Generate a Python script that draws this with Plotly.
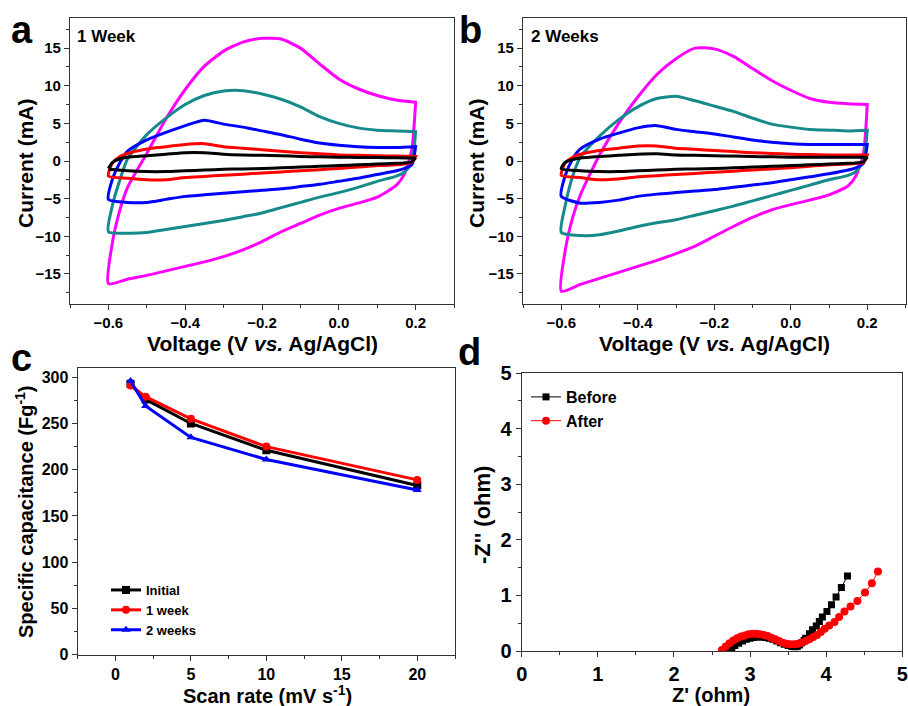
import plotly.graph_objects as go

W, H = 908, 706
FONT = "Liberation Sans, Arial, sans-serif"

# ---------------- Panel a/b: CV data ----------------
V_UP = [-0.6, -0.59, -0.57, -0.55, -0.5, -0.45, -0.4, -0.35, -0.3, -0.25, -0.2,
        -0.15, -0.1, -0.05, 0.0, 0.05, 0.1, 0.15, 0.2]
V_DN = [0.2, 0.19, 0.17, 0.15, 0.1, 0.05, 0.0, -0.05, -0.1, -0.15, -0.2,
        -0.25, -0.3, -0.35, -0.4, -0.45, -0.5, -0.55, -0.6]

CV_COLORS = ["#FF00FF", "#168A8A", "#0000FF", "#FF0000", "#000000"]

# 1 week (panel a)
A_MAG_UP = [-16.3, -11.0, -6.5, -3.5, 1.0, 5.6, 9.5, 12.6, 14.6, 15.8, 16.3, 16.2, 15.0, 12.9, 10.9, 9.6, 8.7, 8.1, 7.8]
A_MAG_DN = [7.8, 1.5, -1.8, -3.2, -4.8, -5.6, -6.3, -7.2, -8.3, -9.4, -10.7, -11.8, -12.7, -13.4, -14.0, -14.6, -15.2, -15.7, -16.3]
A_TEA_UP = [-9.4, -6.0, -2.5, 0.3, 3.5, 5.7, 7.5, 8.7, 9.3, 9.35, 8.9, 8.2, 7.2, 5.9, 5.0, 4.4, 4.1, 4.0, 3.9]
A_TEA_DN = [3.9, -0.3, -1.5, -2.0, -2.7, -3.5, -4.2, -4.8, -5.5, -6.2, -6.9, -7.4, -7.9, -8.3, -8.7, -9.1, -9.5, -9.6, -9.4]
A_BLU_UP = [-5.1, -2.5, -0.2, 1.3, 2.8, 3.8, 4.7, 5.4, 4.9, 4.5, 4.0, 3.5, 2.9, 2.4, 2.1, 1.9, 1.8, 1.8, 1.9]
A_BLU_DN = [1.9, -0.5, -1.0, -1.3, -1.8, -2.3, -2.7, -3.1, -3.4, -3.7, -3.9, -4.1, -4.3, -4.5, -4.7, -5.1, -5.5, -5.5, -5.1]
A_RED_UP = [-2.0, -0.3, 0.6, 1.0, 1.6, 1.9, 2.2, 2.3, 1.9, 1.7, 1.5, 1.3, 1.1, 0.95, 0.8, 0.75, 0.7, 0.65, 0.6]
A_RED_DN = [0.6, -0.2, -0.4, -0.5, -0.6, -0.8, -1.0, -1.15, -1.3, -1.45, -1.6, -1.75, -1.9, -2.05, -2.2, -2.5, -2.5, -2.3, -2.0]
A_BLK_UP = [-1.0, -0.2, 0.3, 0.5, 0.7, 0.9, 1.1, 1.1, 0.9, 0.8, 0.75, 0.7, 0.6, 0.55, 0.5, 0.48, 0.45, 0.42, 0.4]
A_BLK_DN = [0.4, -0.1, -0.25, -0.3, -0.4, -0.5, -0.6, -0.7, -0.8, -0.9, -1.0, -1.05, -1.1, -1.2, -1.3, -1.4, -1.4, -1.3, -1.1]

# 2 weeks (panel b)
B_MAG_UP = [-17.3, -12.0, -7.5, -4.5, 0.8, 5.0, 8.5, 11.5, 13.6, 15.0, 14.9, 13.9, 12.3, 10.7, 9.4, 8.3, 7.8, 7.6, 7.5]
B_MAG_DN = [7.5, 1.0, -2.0, -3.3, -4.5, -5.2, -5.8, -6.5, -7.5, -8.7, -10.0, -11.3, -12.3, -13.2, -14.0, -14.8, -15.6, -16.4, -17.3]
B_TEA_UP = [-9.5, -6.0, -2.0, 0.5, 3.3, 5.5, 7.2, 8.3, 8.6, 8.0, 7.3, 6.6, 5.7, 4.9, 4.5, 4.2, 4.1, 4.0, 4.1]
B_TEA_DN = [4.1, 0.0, -1.4, -1.9, -2.5, -3.2, -3.9, -4.6, -5.3, -6.0, -6.6, -7.2, -7.8, -8.2, -8.7, -9.3, -9.8, -9.9, -9.5]
B_BLU_UP = [-4.7, -2.0, 0.3, 1.6, 2.9, 3.7, 4.4, 4.7, 4.2, 3.9, 3.6, 3.2, 2.8, 2.5, 2.3, 2.2, 2.2, 2.2, 2.2]
B_BLU_DN = [2.2, -0.3, -0.9, -1.2, -1.7, -2.1, -2.5, -2.9, -3.2, -3.5, -3.8, -4.0, -4.2, -4.4, -4.7, -5.2, -5.5, -5.6, -4.7]
B_RED_UP = [-1.9, -0.3, 0.5, 0.9, 1.4, 1.7, 2.0, 2.0, 1.7, 1.55, 1.4, 1.25, 1.1, 1.0, 0.9, 0.85, 0.8, 0.8, 0.8]
B_RED_DN = [0.8, -0.2, -0.35, -0.4, -0.5, -0.7, -0.9, -1.05, -1.2, -1.35, -1.5, -1.65, -1.8, -1.95, -2.1, -2.4, -2.5, -2.2, -1.9]
B_BLK_UP = [-1.0, -0.2, 0.2, 0.4, 0.6, 0.75, 0.9, 0.95, 0.8, 0.75, 0.7, 0.65, 0.6, 0.55, 0.5, 0.5, 0.5, 0.5, 0.5]
B_BLK_DN = [0.5, -0.1, -0.25, -0.3, -0.4, -0.5, -0.6, -0.7, -0.8, -0.9, -1.0, -1.05, -1.1, -1.2, -1.3, -1.4, -1.4, -1.3, -1.0]

# ---------------- Panel c ----------------
SCAN_RATE = [1, 2, 5, 10, 20]
CAP_INITIAL = [293, 276, 250, 221, 183]
CAP_1WEEK = [291, 279, 255, 225, 189]
CAP_2WEEKS = [296, 269, 235, 211, 178]
C_NAMES = ["Initial", "1 week", "2 weeks"]

# ---------------- Panel d ----------------
ZRE_BEFORE = [2.72, 2.76, 2.80, 2.85, 2.90, 2.95, 3.00, 3.05, 3.10, 3.15, 3.20, 3.25, 3.30,
              3.35, 3.40, 3.45, 3.50, 3.55, 3.59, 3.62, 3.65, 3.68, 3.71, 3.73, 3.78, 3.82,
              3.87, 3.91, 3.95, 4.01, 4.07, 4.13, 4.20, 4.28]
ZIM_BEFORE = [0.00, 0.05, 0.10, 0.14, 0.18, 0.21, 0.23, 0.245, 0.25, 0.25, 0.245, 0.23, 0.21,
              0.18, 0.15, 0.12, 0.10, 0.08, 0.075, 0.08, 0.11, 0.15, 0.19, 0.23, 0.31, 0.38,
              0.45, 0.53, 0.61, 0.71, 0.83, 0.97, 1.14, 1.35]
ZRE_AFTER = [2.63, 2.68, 2.73, 2.78, 2.83, 2.88, 2.93, 2.98, 3.03, 3.08, 3.13, 3.18, 3.23,
             3.28, 3.33, 3.38, 3.43, 3.48, 3.53, 3.58, 3.63, 3.68, 3.73, 3.78, 3.83, 3.88,
             3.93, 3.98, 4.04, 4.11, 4.17, 4.24, 4.32, 4.41, 4.51, 4.60, 4.68]
ZIM_AFTER = [0.02, 0.08, 0.14, 0.19, 0.23, 0.26, 0.28, 0.30, 0.31, 0.31, 0.30, 0.29, 0.27,
             0.24, 0.21, 0.18, 0.15, 0.13, 0.12, 0.12, 0.13, 0.15, 0.18, 0.21, 0.25, 0.29,
             0.34, 0.40, 0.46, 0.52, 0.61, 0.71, 0.80, 0.90, 1.05, 1.22, 1.43]


def px(x):
    return x / W


def py(y):
    return 1 - y / H


fig = go.Figure()

a_curves = [(A_MAG_UP, A_MAG_DN), (A_TEA_UP, A_TEA_DN), (A_BLU_UP, A_BLU_DN),
            (A_RED_UP, A_RED_DN), (A_BLK_UP, A_BLK_DN)]
b_curves = [(B_MAG_UP, B_MAG_DN), (B_TEA_UP, B_TEA_DN), (B_BLU_UP, B_BLU_DN),
            (B_RED_UP, B_RED_DN), (B_BLK_UP, B_BLK_DN)]

for curves, xa, ya in [(a_curves, "x", "y"), (b_curves, "x2", "y2")]:
    for (up, dn), col in zip(curves, CV_COLORS):
        fig.add_trace(go.Scatter(
            x=V_UP + V_DN, y=up + dn, mode="lines",
            line=dict(color=col, width=3, shape="spline", smoothing=0.6),
            xaxis=xa, yaxis=ya, showlegend=False))

c_series = [(CAP_INITIAL, "#000000", "square"), (CAP_1WEEK, "#FF0000", "circle"),
            (CAP_2WEEKS, "#0000FF", "triangle-up")]
for (vals, col, sym), name in zip(c_series, C_NAMES):
    fig.add_trace(go.Scatter(
        x=SCAN_RATE, y=vals, mode="lines+markers", name=name,
        line=dict(color=col, width=3), marker=dict(symbol=sym, size=8, color=col),
        xaxis="x3", yaxis="y3", legend="legend"))

fig.add_trace(go.Scatter(
    x=ZRE_BEFORE, y=ZIM_BEFORE, mode="lines+markers", name="Before",
    line=dict(color="#000000", width=1), marker=dict(symbol="square", size=7, color="#000000"),
    xaxis="x4", yaxis="y4", legend="legend2"))
fig.add_trace(go.Scatter(
    x=ZRE_AFTER, y=ZIM_AFTER, mode="lines+markers", name="After",
    line=dict(color="#FF0000", width=1), marker=dict(symbol="circle", size=8, color="#FF0000"),
    xaxis="x4", yaxis="y4", legend="legend2"))


def axis(domain, rng, dtick, minor, size, anchor, fmt=None):
    d = dict(domain=domain, range=rng, dtick=dtick, tick0=0, anchor=anchor,
             automargin=False,
             showgrid=False, zeroline=False, showline=True, linecolor="#333333",
             linewidth=1.3, mirror=True, ticks="outside", ticklen=5, tickwidth=1.2,
             tickcolor="#333333",
             tickfont=dict(family=FONT, size=size, color="black", weight="bold"),
             minor=dict(ticks="outside", ticklen=3, dtick=minor, tickcolor="#333333",
                        tickwidth=1, showgrid=False))
    if fmt:
        d["tickformat"] = fmt
    return d


# domains
ax_a = [px(70), px(454)]
ay_ab = [py(304), py(18)]
ax_b = [px(523), px(905.5)]
ax_c = [px(77.7), px(455)]
ay_c = [py(654.7), py(368)]
ax_d = [px(521.7), px(902.3)]
ay_d = [py(651), py(373)]

fig.update_layout(
    template="none",
    width=W, height=H, autosize=False, margin=dict(l=0, r=0, t=0, b=0, pad=0),
    paper_bgcolor="white", plot_bgcolor="white",
    font=dict(family=FONT, color="black", weight="bold"),
    xaxis=axis(ax_a, [-0.7, 0.3], 0.2, 0.1, 15, "y", ".1f"),
    yaxis=axis(ay_ab, [-19, 19], 5, 2.5, 15, "x"),
    xaxis2=axis(ax_b, [-0.7, 0.3], 0.2, 0.1, 15, "y2", ".1f"),
    yaxis2=axis(ay_ab, [-19, 19], 5, 2.5, 15, "x2"),
    xaxis3=axis(ax_c, [-2.5, 22.5], 5, 2.5, 16, "y3"),
    yaxis3=axis(ay_c, [0, 310], 50, 25, 16, "x3"),
    xaxis4=axis(ax_d, [0, 5], 1, 0.5, 20, "y4"),
    yaxis4=axis(ay_d, [0, 5], 1, 0.5, 20, "x4"),
    legend=dict(x=px(106), y=py(575), xanchor="left", yanchor="top",
                bgcolor="rgba(0,0,0,0)", font=dict(family=FONT, size=13, weight="bold"),
                itemwidth=30, tracegroupgap=0),
    legend2=dict(x=px(526), y=py(380), xanchor="left", yanchor="top",
                 bgcolor="rgba(0,0,0,0)", font=dict(family=FONT, size=16, weight="bold"),
                 itemwidth=30, tracegroupgap=0),
)

ann = []


def text(x, y, s, size, angle=0, xanchor="center"):
    ann.append(dict(x=px(x), y=py(y), xref="paper", yref="paper", text=s, showarrow=False,
                    textangle=angle, xanchor=xanchor, yanchor="middle", borderpad=0,
                    font=dict(family=FONT, size=size, color="black", weight="bold")))


# panel letters
text(10, 30, "a", 38, xanchor="left")
text(458, 30, "b", 38, xanchor="left")
text(10, 358, "c", 38, xanchor="left")
text(457, 352, "d", 38, xanchor="left")
# in-plot labels
text(76, 37, "1 Week", 17, xanchor="left")
text(530, 36, "2 Weeks", 17, xanchor="left")
# axis titles
text(25, 163, "Current (mA)", 21, angle=-90)
text(262, 343, "Voltage (V <i>vs.</i> Ag/AgCl)", 21)
text(476, 163, "Current (mA)", 21, angle=-90)
text(714, 343, "Voltage (V <i>vs.</i> Ag/AgCl)", 21)
text(24, 512, "Specific capacitance (Fg<sup>-1</sup>)", 20, angle=-90)
text(267, 694, "Scan rate (mV s<sup>-1</sup>)", 20)
text(482, 515, "-Z'' (ohm)", 22, angle=-90)
text(711, 694.5, "Z' (ohm)", 20)

fig.update_layout(annotations=ann)
fig.write_html(
    "out.html",
    config={"displayModeBar": False},
    post_script="document.body.style.margin='0';document.body.style.padding='0';"
                "document.body.style.overflow='hidden';",
)
